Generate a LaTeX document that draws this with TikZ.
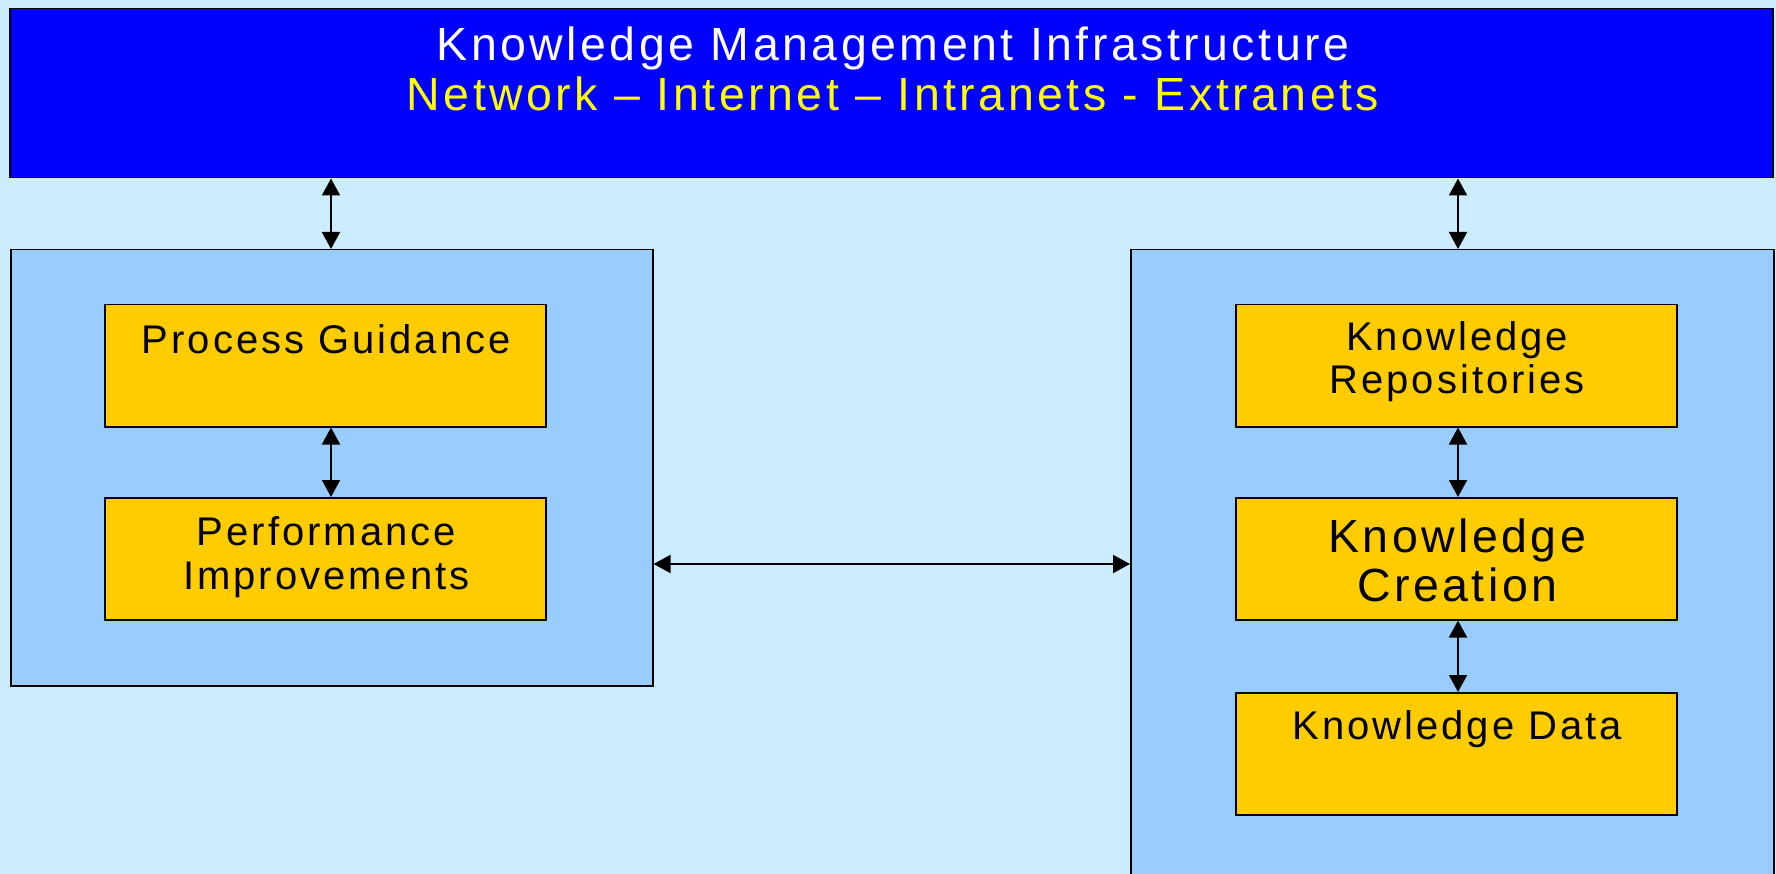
\documentclass[tikz,border=0pt]{standalone}
\usepackage{fontspec}
\setmainfont{Liberation Sans}[LetterSpace=7.5]
\usetikzlibrary{arrows.meta}
\definecolor{bg}{HTML}{CCECFF}
\definecolor{panel}{HTML}{99CCFF}
\definecolor{topblue}{HTML}{0000FF}
\definecolor{gold}{HTML}{FFCC00}
\definecolor{ylw}{HTML}{FFFF00}
\tikzset{
  box/.style={draw=black, line width=1.5pt, inner sep=0pt, anchor=north west},
  panelbox/.style={box, fill=panel},
  goldbox/.style={box, fill=gold, minimum width=441pt, minimum height=122pt},
  lbl/.style={inner sep=0pt, anchor=base, font=\fontsize{40}{46}\selectfont},
  biglbl/.style={inner sep=0pt, anchor=base, font=\fontsize{46.5}{52}\selectfont},
  dbl/.style={line width=2pt, {Triangle[length=17pt,width=18pt]}-{Triangle[length=17pt,width=18pt]}},
}
\begin{document}
\begin{tikzpicture}[x=1pt,y=-1pt]
\useasboundingbox (0,0) rectangle (1776,874);
\fill[bg] (0,0) rectangle (1776,874);
\clip (0,0) rectangle (1776,874);
% top infrastructure box
\node[box, fill=topblue, minimum width=1763pt, minimum height=169pt] (top) at (9,8) {};
\node[biglbl, text=white] (t1) at (893,61) {Knowledge Management Infrastructure};
\node[biglbl, text=ylw] (t2) at (893,111) {Network -- Internet -- Intranets - Extranets};
% panels
\node[panelbox, minimum width=642pt, minimum height=436pt] (lp) at (10,249) {};
\node[panelbox, minimum width=643pt, minimum height=660pt] (rp) at (1130,249) {};
% left boxes
\node[goldbox] (pg) at (104,304) {};
\node[lbl] (pgt) at ([xshift=1pt]pg.north |- 0,353) {Process Guidance};
\node[goldbox] (pi) at (104,497) {};
\node[lbl] (pit1) at ([xshift=1pt]pi.north |- 0,545) {Performance};
\node[lbl] (pit2) at ([xshift=1pt]pi.north |- 0,589) {Improvements};
% right boxes
\node[goldbox] (kr) at (1235,304) {};
\node[lbl] (krt1) at ([xshift=1pt]kr.north |- 0,350) {Knowledge};
\node[lbl] (krt2) at ([xshift=1pt]kr.north |- 0,393) {Repositories};
\node[goldbox] (kc) at (1235,497) {};
\node[biglbl] (kct1) at ([xshift=1pt]kc.north |- 0,552) {Knowledge};
\node[biglbl] (kct2) at ([xshift=1pt]kc.north |- 0,601) {Creation};
\node[goldbox] (kd) at (1235,692) {};
\node[lbl] (kdt) at ([xshift=1pt]kd.north |- 0,739) {Knowledge Data};
% connectors
\coordinate (ax) at (331,0);
\coordinate (bx) at (1458,0);
\coordinate (hy) at (0,564);
\draw[dbl] (top.south -| ax) -- (lp.north -| ax);
\draw[dbl] (top.south -| bx) -- (rp.north -| bx);
\draw[dbl] (pg.south -| ax) -- (pi.north -| ax);
\draw[dbl] (kr.south -| bx) -- (kc.north -| bx);
\draw[dbl] (kc.south -| bx) -- (kd.north -| bx);
\draw[dbl] (lp.east |- hy) -- (rp.west |- hy);
\end{tikzpicture}
\end{document}
